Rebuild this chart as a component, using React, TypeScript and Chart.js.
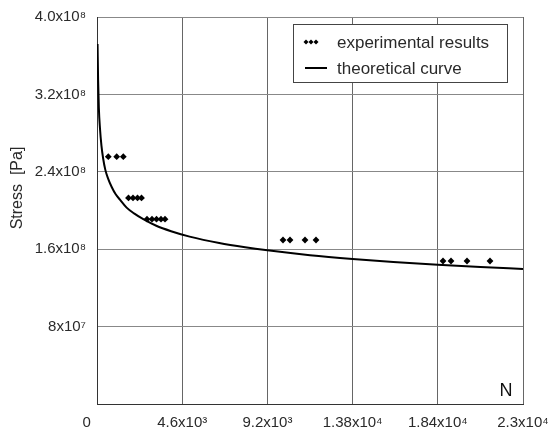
import React, { useEffect, useRef } from "react";
import { Chart, registerables } from "chart.js";

Chart.register(...registerables);

const FONT = "'Liberation Sans', Arial, sans-serif";
const TEXT = "#2a2a2a";

// Experimental results (cycles N, stress Pa)
const expN = [610, 1063, 1420, 1700, 1944, 2187, 2403, 2700, 2970, 3213, 3456, 3672, 10042, 10420, 11230, 11824, 18681, 19113, 19977, 21218];
const expS = [2.556e8, 2.556e8, 2.556e8, 2.13e8, 2.13e8, 2.13e8, 2.13e8, 1.91e8, 1.91e8, 1.91e8, 1.91e8, 1.91e8, 1.695e8, 1.695e8, 1.695e8, 1.695e8, 1.478e8, 1.478e8, 1.478e8, 1.478e8];

// Theoretical curve (read points)
const curveN = [30, 60, 100, 160, 240, 330, 450, 600, 800, 1000, 1250, 1600, 2000, 2500, 3200, 4000, 5000, 6600, 8000, 9200, 11500, 13800, 16000, 18400, 20700, 23000];
const curveS = [3.72e8, 3.35e8, 3.06e8, 2.85e8, 2.67e8, 2.54e8, 2.42e8, 2.33e8, 2.24e8, 2.17e8, 2.11e8, 2.03e8, 1.97e8, 1.91e8, 1.842e8, 1.786e8, 1.73e8, 1.663e8, 1.619e8, 1.588e8, 1.538e8, 1.499e8, 1.468e8, 1.44e8, 1.416e8, 1.395e8];

const xTickValues = [0, 4600, 9200, 13800, 18400, 23000];
const xTickLabels = ["0     ", "4.6x10³", "9.2x10³", "1.38x10⁴", "1.84x10⁴", "2.3x10⁴"];
const yTickValues = [0, 8e7, 1.6e8, 2.4e8, 3.2e8, 4e8];
const yTickLabels = ["", "8x10⁷", "1.6x10⁸", "2.4x10⁸", "3.2x10⁸", "4.0x10⁸"];

const seriesLabels = ["experimental results", "theoretical curve"];
const yTitle = "Stress  [Pa]";
const xTitle = "N";

const overlay = {
  id: "overlay",
  afterDraw(chart: any) {
    const ctx = chart.ctx;
    const ca = chart.chartArea;
    ctx.save();
    ctx.fillStyle = TEXT;
    ctx.font = `16px ${FONT}`;
    ctx.textAlign = "center";
    ctx.textBaseline = "middle";
    ctx.translate(18, 188);
    ctx.rotate(-Math.PI / 2);
    ctx.fillText(yTitle, 0, 0);
    ctx.restore();

    ctx.save();
    ctx.fillStyle = "#111";
    ctx.font = `18px ${FONT}`;
    ctx.textAlign = "center";
    ctx.textBaseline = "middle";
    ctx.fillText(xTitle, ca.right - 17, ca.bottom - 13);

    const bx = 293, by = 24, bw = 214, bh = 58;
    ctx.fillStyle = "#fff";
    ctx.fillRect(bx, by, bw, bh);
    ctx.strokeStyle = "#444";
    ctx.lineWidth = 1;
    ctx.strokeRect(bx + 0.5, by + 0.5, bw, bh);
    ctx.fillStyle = "#000";
    const y1 = 42, y2 = 68;
    [306, 311, 316].forEach((px) => {
      ctx.beginPath();
      ctx.moveTo(px, y1 - 2.5);
      ctx.lineTo(px + 2.5, y1);
      ctx.lineTo(px, y1 + 2.5);
      ctx.lineTo(px - 2.5, y1);
      ctx.closePath();
      ctx.fill();
    });
    ctx.strokeStyle = "#000";
    ctx.lineWidth = 2;
    ctx.beginPath();
    ctx.moveTo(305, y2);
    ctx.lineTo(327, y2);
    ctx.stroke();
    ctx.fillStyle = TEXT;
    ctx.font = `17px ${FONT}`;
    ctx.textAlign = "left";
    ctx.textBaseline = "middle";
    const labels = chart.data.datasets.map((d: any) => d.label);
    ctx.fillText(labels[0], 337, y1 + 1);
    ctx.fillText(labels[1], 337, y2 + 1);
    ctx.restore();
  },
};

export default function App() {
  const ref = useRef<HTMLCanvasElement>(null);
  useEffect(() => {
    if (!ref.current) return;
    const chart = new Chart(ref.current, {
      type: "scatter",
      data: {
        datasets: [
          {
            label: seriesLabels[0],
            data: expN.map((n, i) => ({ x: n, y: expS[i] })),
            pointStyle: "rectRot",
            pointRadius: 3.4,
            backgroundColor: "#000",
            borderColor: "#000",
            borderWidth: 0,
            showLine: false,
          },
          {
            label: seriesLabels[1],
            data: curveN.map((n, i) => ({ x: n, y: curveS[i] })),
            showLine: true,
            pointRadius: 0,
            borderColor: "#000",
            borderWidth: 2,
            cubicInterpolationMode: "monotone",
            fill: false,
          },
        ],
      },
      options: {
        responsive: false,
        animation: false,
        layout: { padding: { top: 17, right: 26, left: 0, bottom: 0 } },
        plugins: { legend: { display: false }, tooltip: { enabled: false } },
        scales: {
          x: {
            type: "linear",
            min: 0,
            max: 23000,
            afterBuildTicks: (s: any) => {
              s.ticks = xTickValues.map((v) => ({ value: v }));
            },
            afterFit: (s: any) => {
              s.height = 30;
              s.paddingLeft = 0;
              s.paddingRight = 0;
            },
            ticks: {
              autoSkip: false,
              maxRotation: 0,
              padding: 10,
              color: TEXT,
              font: { family: FONT, size: 15 },
              callback: (v: any) => {
                const i = xTickValues.indexOf(Number(v));
                return i >= 0 ? xTickLabels[i] : "";
              },
            },
            grid: { color: "#666", lineWidth: 1, drawTicks: false },
            border: { color: "#333", width: 1 },
          },
          y: {
            type: "linear",
            min: 0,
            max: 4e8,
            afterBuildTicks: (s: any) => {
              s.ticks = yTickValues.map((v) => ({ value: v }));
            },
            afterFit: (s: any) => {
              s.width = 97;
              s.paddingTop = 0;
              s.paddingBottom = 0;
            },
            ticks: {
              autoSkip: false,
              padding: 11,
              color: TEXT,
              font: { family: FONT, size: 15 },
              callback: (v: any) => {
                const i = yTickValues.indexOf(Number(v));
                return i >= 0 ? yTickLabels[i] : "";
              },
            },
            grid: { color: "#888", lineWidth: 1, drawTicks: false },
            border: { color: "#333", width: 1 },
          },
        },
      },
      plugins: [overlay],
    } as any);
    return () => chart.destroy();
  }, []);
  return (
    <div style={{ position: "absolute", left: 0, top: 0, width: 549, height: 434, background: "#fff" }}>
      <canvas ref={ref} width={549} height={434} style={{ width: 549, height: 434 }} />
    </div>
  );
}
